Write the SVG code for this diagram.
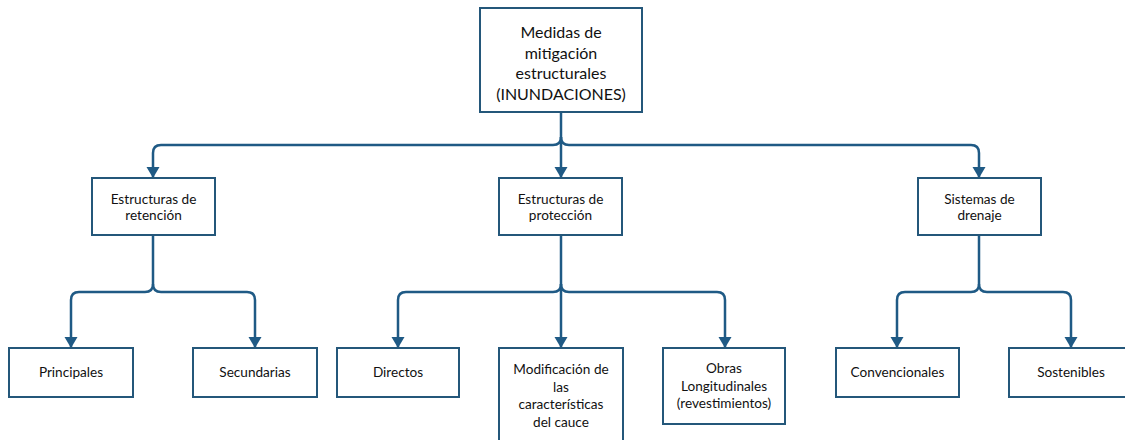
<svg xmlns="http://www.w3.org/2000/svg" width="1125" height="440" viewBox="0 0 1125 440">
<style>
.box{fill:#fff;stroke:#24577a;stroke-width:2}
.t{font-family:Lato,"Liberation Sans",sans-serif;font-size:13.6px;fill:#111;text-anchor:middle}
.tt{font-family:Lato,"Liberation Sans",sans-serif;font-size:16px;fill:#111;text-anchor:middle}
.c{fill:none;stroke:#1f5a85;stroke-width:2.5;marker-end:url(#ah)}
</style>
<defs>
<marker id="ah" markerUnits="userSpaceOnUse" markerWidth="12" markerHeight="14" refX="11" refY="7" orient="auto" viewBox="0 0 12 14">
<path d="M0,0.5 L11,7 L0,13.5 Z" fill="#1f5a85"/>
</marker>
</defs>
<rect width="1125" height="440" fill="#fff"/>
<g id="connectors">
<path class="c" d="M561,112 V178"/>
<path class="c" d="M561,137 Q561,145 553,145 H161 Q153,145 153,153 V178"/>
<path class="c" d="M561,137 Q561,145 569,145 H971 Q979,145 979,153 V178"/>
<path class="c" d="M153,235 V284 Q153,292 145,292 H79 Q71,292 71,300 V348"/>
<path class="c" d="M153,284 Q153,292 161,292 H247 Q255,292 255,300 V348"/>
<path class="c" d="M561,235 V348"/>
<path class="c" d="M561,284 Q561,292 553,292 H406 Q398,292 398,300 V348"/>
<path class="c" d="M561,284 Q561,292 569,292 H717 Q725,292 725,300 V348"/>
<path class="c" d="M979,235 V284 Q979,292 971,292 H905 Q897,292 897,300 V348"/>
<path class="c" d="M979,284 Q979,292 987,292 H1063 Q1071,292 1071,300 V348"/>
</g>
<g id="root">
<rect class="box" x="480" y="8" width="162" height="104"/>
<text class="tt" x="561" y="38">Medidas de</text>
<text class="tt" x="561" y="58.5">mitigación</text>
<text class="tt" x="561" y="79">estructurales</text>
<text class="tt" x="561" y="99.5">(INUNDACIONES)</text>
</g>
<g id="retencion">
<rect class="box" x="92" y="178" width="123" height="57"/>
<text class="t" x="153.5" y="204">Estructuras de</text>
<text class="t" x="153.5" y="220">retención</text>
</g>
<g id="proteccion">
<rect class="box" x="499" y="178" width="123" height="57"/>
<text class="t" x="560.5" y="204">Estructuras de</text>
<text class="t" x="560.5" y="220">protección</text>
</g>
<g id="drenaje">
<rect class="box" x="918" y="178" width="123" height="57"/>
<text class="t" x="979.5" y="204">Sistemas de</text>
<text class="t" x="979.5" y="220">drenaje</text>
</g>
<g id="principales">
<rect class="box" x="9" y="348" width="124" height="49"/>
<text class="t" x="71" y="377">Principales</text>
</g>
<g id="secundarias">
<rect class="box" x="193" y="348" width="124" height="49"/>
<text class="t" x="255" y="377">Secundarias</text>
</g>
<g id="directos">
<rect class="box" x="337" y="348" width="122" height="49"/>
<text class="t" x="398" y="377">Directos</text>
</g>
<g id="modificacion">
<rect class="box" x="499" y="348" width="124" height="100"/>
<text class="t" x="561" y="374">Modificación de</text>
<text class="t" x="561" y="391.5">las</text>
<text class="t" x="561" y="409">características</text>
<text class="t" x="561" y="426.5">del cauce</text>
</g>
<g id="obras">
<rect class="box" x="663" y="348" width="122" height="76"/>
<text class="t" x="724" y="373">Obras</text>
<text class="t" x="724" y="390.5">Longitudinales</text>
<text class="t" x="724" y="408">(revestimientos)</text>
</g>
<g id="convencionales">
<rect class="box" x="836" y="348" width="123" height="49"/>
<text class="t" x="897.5" y="377">Convencionales</text>
</g>
<g id="sostenibles">
<rect class="box" x="1009" y="348" width="124" height="49"/>
<text class="t" x="1071" y="377">Sostenibles</text>
</g>
</svg>
